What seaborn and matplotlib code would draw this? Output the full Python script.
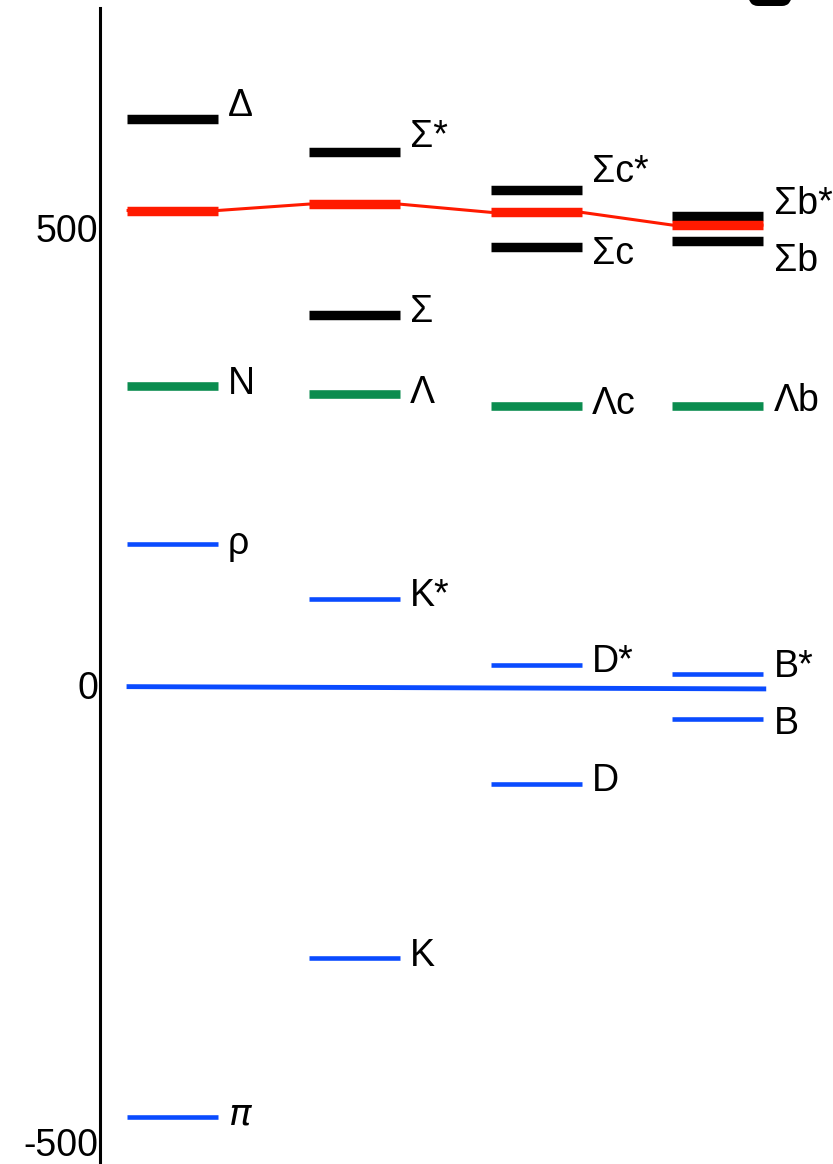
import matplotlib
matplotlib.use("Agg")
import matplotlib.pyplot as plt
import matplotlib.transforms as mtransforms
from matplotlib.patches import FancyBboxPatch
import numpy as np
import pandas as pd
import seaborn as sns

sns.set_theme(style="white")
plt.rcParams["font.family"] = ["Liberation Sans", "DejaVu Sans"]
plt.rcParams["mathtext.fontset"] = "dejavusans"

# ---- level data (energy relative to the reference line) ----
columns = [0, 1, 2, 3]

# heavy baryon partners (black)
black_col = [0, 1, 1, 2, 2, 3, 3]
black_val = [623, 587, 408, 545, 483, 517, 490]
black_lab = ["Δ", "Σ*", "Σ", "Σc*", "Σc", "Σb*", "Σb"]

# threshold levels (red), one per column
red_val = [523, 530, 521, 507]

# Λ-type baryons (green)
green_col = [0, 1, 2, 3]
green_val = [331, 322, 309, 309]
green_lab = ["N", "Λ", "Λc", "Λb"]

# mesons (blue)
blue_col = [0, 0, 1, 1, 2, 2, 3, 3]
blue_val = [158, -470, 97, -296, 25, -105, 15, -34]
blue_lab = ["ρ", r"$\pi$", "K*", "K", "D*", "D", "B*", "B"]

# zero reference line end values
zero_val = [1.5, -1.0]

yticks = [500, 0, -500]
ytick_labels = ["500", "0", "-500"]

# label vertical nudges in pixels (positive = up)
black_dy = [12, 14, 2, 17, -8, 11, -22]
green_dy = [0, 0, 0, 3]
blue_dy = [-2, 1, 2, 1, 2, 1, 6, -6]

# ---- layout ----
W, H = 833, 1164
fig = plt.figure(figsize=(W / 100, H / 100), dpi=100)
ax = fig.add_axes([100 / W, 0, 733 / W, (H - 8) / H])

px_per_unit = 0.913
y0_px = 688
ax.set_ylim((y0_px - H) / px_per_unit, (y0_px - 8) / px_per_unit)
ax.set_xlim(-0.396, 3.632)

hw = 0.25  # half width of a level bar in column units

C_BLACK = "#000000"
C_RED = "#ff1a00"
C_GREEN = "#0b8c4f"
C_BLUE = "#0a4bff"

# red connection between threshold levels
path_x, path_y = [], []
for c, v in zip(columns, red_val):
    path_x += [c - hw, c + hw]
    path_y += [v, v]
conn = pd.DataFrame({"x": path_x, "y": path_y})
sns.lineplot(data=conn, x="x", y="y", sort=False, color=C_RED, lw=2.2,
             ax=ax, zorder=2, solid_capstyle="butt")

# zero reference line
sns.lineplot(x=[columns[0] - hw, columns[-1] + hw + 0.015], y=zero_val,
             sort=False, color=C_BLUE, lw=3.5, ax=ax, zorder=2,
             solid_capstyle="butt")


def levels(cols, vals, color, lw):
    cols = np.asarray(cols, float)
    ax.hlines(vals, cols - hw, cols + hw, colors=color, lw=lw, zorder=3,
              capstyle="butt")


levels(black_col, black_val, C_BLACK, 6.8)
levels(columns, red_val, C_RED, 6.8)
levels(green_col, green_val, C_GREEN, 6.2)
levels(blue_col, blue_val, C_BLUE, 3.3)


def labels(cols, vals, texts, dys):
    for c, v, t, dy in zip(cols, vals, texts, dys):
        ax.annotate(t, xy=(c + hw, v), xytext=(7.5, dy * 0.72 + 1),
                    textcoords="offset points", ha="left", va="center",
                    fontsize=27, color="black")


labels(black_col, black_val, black_lab, black_dy)
labels(green_col, green_val, green_lab, green_dy)
labels(blue_col, blue_val, blue_lab, blue_dy)

# axes styling
for s in ["top", "right", "bottom"]:
    ax.spines[s].set_visible(False)
ax.spines["left"].set_color("black")
ax.spines["left"].set_linewidth(2.2)
ax.set_xticks([])
ax.set_yticks(yticks)
ax.set_yticklabels(ytick_labels, fontsize=27)
ax.tick_params(axis="y", length=0, pad=1.5, colors="black")
ax.set_xlabel("")
ax.set_ylabel("")

# lift the tick labels a few pixels
lift = mtransforms.ScaledTranslation(0, 3 / 100, fig.dpi_scale_trans)
for lbl in ax.get_yticklabels():
    lbl.set_transform(lbl.get_transform() + lift)

# panel badge at the top edge
badge = FancyBboxPatch((748 / W, 1 - 6 / H), 44 / W, 40 / H,
                       boxstyle="round,pad=0,rounding_size=0.012",
                       transform=fig.transFigure, facecolor="black",
                       edgecolor="none", clip_on=False)
fig.patches.append(badge)

fig.savefig("out.png", dpi=100)
